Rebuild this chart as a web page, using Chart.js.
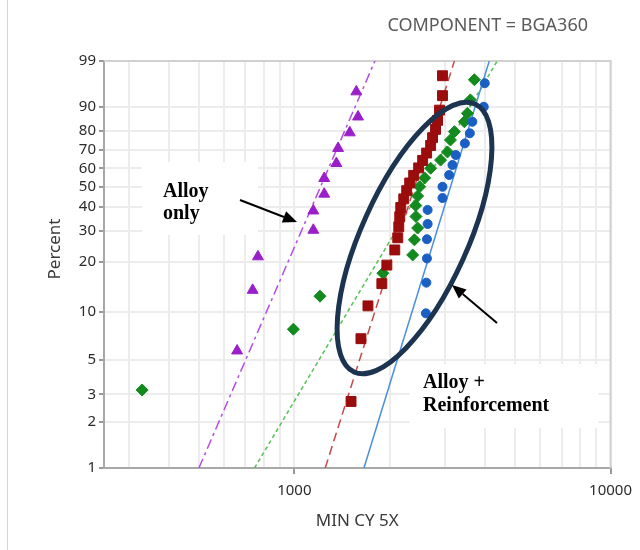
<!DOCTYPE html>
<html>
<head>
<meta charset="utf-8">
<script src="https://cdn.jsdelivr.net/npm/chart.js@4.4.1/dist/chart.umd.min.js"></script>
<style>
  html, body { margin: 0; padding: 0; background: #fff; }
  #wrap { width: 640px; height: 550px; }
</style>
</head>
<body>
<div id="wrap"><canvas id="weibull" width="640" height="550"></canvas></div>
<script>
// probability axis labels (percent) and cycle axis grid
const pctTicks = [1, 2, 3, 5, 10, 20, 30, 40, 50, 60, 70, 80, 90, 99];
const cycleTicks = [300, 400, 500, 600, 700, 800, 900, 1000, 2000, 3000, 4000, 5000, 6000, 7000, 8000, 9000, 10000];
const cycleLabels = [1000, 10000];

// alloy only (purple triangles)
const alloyCycles = [659, 738, 767, 1148, 1148, 1243, 1243, 1358, 1375, 1497, 1590, 1570];
const alloyPct = [5.7, 13.6, 21.5, 30.3, 38.3, 46.3, 54.5, 62.7, 71.0, 79.1, 86.3, 94.5];

// red squares
const redCycles = [1511, 1624, 1709, 1891, 1961, 2078, 2123, 2139, 2154, 2170, 2218, 2266, 2316, 2384, 2472, 2545, 2620, 2697, 2736, 2796, 2837, 2878, 2941, 2941];
const redPct = [2.7, 6.8, 10.9, 14.9, 19.2, 23.5, 27.5, 31.6, 35.7, 39.8, 43.9, 48.0, 52.0, 56.1, 60.2, 64.3, 68.4, 72.5, 76.6, 80.7, 84.8, 88.9, 93.5, 97.5];

// green diamonds
const greenCycles = [330, 993, 1205, 1905, 2367, 2397, 2454, 2424, 2421, 2454, 2490, 2582, 2697, 2900, 3050, 3116, 3208, 3449, 3526, 3603, 3709];
const greenPct = [3.2, 7.8, 12.5, 17.2, 22.0, 26.8, 31.1, 35.8, 40.7, 45.3, 50.0, 54.7, 60.0, 64.5, 69.0, 75.4, 79.6, 84.2, 87.7, 92.3, 96.9];

// blue circles
const blueCycles = [2606, 2615, 2626, 2626, 2639, 2639, 2941, 2941, 3087, 3162, 3239, 3462, 3589, 3655, 3973, 4001];
const bluePct = [9.8, 15.1, 21.0, 27.0, 32.7, 38.7, 44.3, 50.0, 56.3, 61.8, 67.3, 73.6, 78.8, 84.2, 90.1, 96.3];

// fitted lines, cycles at 1% and 99%
const fitPct = [1, 99];
const alloyFit = [499, 1798];
const redFit = [1252, 3208];
const greenFit = [748, 4381];
const blueFit = [1660, 4134];

// weibull probability transform
const wb = p => Math.log(-Math.log(1 - p / 100));
const toPoints = (xs, ps) => xs.map((x, i) => ({ x: x, y: wb(ps[i]) }));

const FONT = '"Noto Sans", "Open Sans", sans-serif';

function arrow(ctx, x1, y1, x2, y2) {
    const ang = Math.atan2(y2 - y1, x2 - x1);
    const len = 14, half = 6;
    const bx = x2 - Math.cos(ang) * len, by = y2 - Math.sin(ang) * len;
    ctx.beginPath();
    ctx.moveTo(x1, y1);
    ctx.lineTo(bx, by);
    ctx.stroke();
    ctx.beginPath();
    ctx.moveTo(x2, y2);
    ctx.lineTo(bx + Math.sin(ang) * half, by - Math.cos(ang) * half);
    ctx.lineTo(bx - Math.sin(ang) * half, by + Math.cos(ang) * half);
    ctx.closePath();
    ctx.fill();
}

const notes = {
    id: 'notes',
    beforeDraw(chart) {
        const ctx = chart.ctx;
        ctx.save();
        ctx.fillStyle = '#fff';
        ctx.fillRect(0, 0, chart.width, chart.height);
        ctx.strokeStyle = '#d4d4d4';
        ctx.lineWidth = 1;
        ctx.beginPath();
        ctx.moveTo(7.5, 0);
        ctx.lineTo(7.5, chart.height);
        ctx.stroke();

        ctx.fillStyle = '#5a5a5a';
        ctx.font = '18px ' + FONT;
        ctx.textAlign = 'right';
        ctx.textBaseline = 'alphabetic';
        ctx.fillText('COMPONENT = BGA360', 588, 31);

        ctx.translate(55, 249);
        ctx.rotate(-Math.PI / 2);
        ctx.textAlign = 'center';
        ctx.textBaseline = 'middle';
        ctx.font = '17px ' + FONT;
        ctx.fillStyle = '#3a3a3a';
        ctx.fillText('Percent', 0, 0);
        ctx.restore();
    },
    beforeDatasetsDraw(chart) {
        const ctx = chart.ctx;
        const a = chart.chartArea;
        ctx.save();
        // plot frame, top and right
        ctx.strokeStyle = '#d0d0d0';
        ctx.lineWidth = 2;
        ctx.beginPath();
        ctx.moveTo(a.left, a.top);
        ctx.lineTo(a.right, a.top);
        ctx.lineTo(a.right, a.bottom);
        ctx.stroke();
        // white label boxes
        ctx.fillStyle = '#fff';
        ctx.fillRect(142, 162, 116, 73);
        ctx.fillRect(410, 364, 188, 64);
        ctx.restore();
    },
    afterDatasetsDraw(chart) {
        const ctx = chart.ctx;
        ctx.save();
        ctx.strokeStyle = '#1c3450';
        ctx.lineWidth = 5;
        ctx.beginPath();
        ctx.ellipse(414.5, 238, 147, 53, -65.7 * Math.PI / 180, 0, Math.PI * 2);
        ctx.stroke();

        ctx.strokeStyle = '#000';
        ctx.fillStyle = '#000';
        ctx.lineWidth = 2;
        arrow(ctx, 240, 200, 297, 222);
        arrow(ctx, 497, 323, 452, 285);

        ctx.font = 'bold 20px "Liberation Serif", "DejaVu Serif", serif';
        ctx.textAlign = 'left';
        ctx.textBaseline = 'alphabetic';
        ctx.fillText('Alloy', 163, 197);
        ctx.fillText('only', 163, 219);
        ctx.fillText('Alloy +', 423, 388);
        ctx.fillText('Reinforcement', 423, 411);
        ctx.restore();
    }
};

const pointSet = (label, xs, ps, style, radius, color, order) => ({
    type: 'scatter',
    label: label,
    data: toPoints(xs, ps),
    pointStyle: style,
    pointRadius: radius,
    pointBackgroundColor: color,
    pointBorderColor: color,
    pointBorderWidth: 1,
    showLine: false,
    order: order
});

const fitSet = (label, xs, color, dash, order) => ({
    type: 'line',
    label: label,
    data: toPoints(xs, fitPct),
    borderColor: color,
    borderWidth: 1.5,
    borderDash: dash,
    pointRadius: 0,
    fill: false,
    order: order
});

new Chart(document.getElementById('weibull').getContext('2d'), {
    type: 'scatter',
    data: {
        datasets: [
            pointSet('Blue', blueCycles, bluePct, 'circle', 4.5, '#1a5fc4', 1),
            pointSet('Red', redCycles, redPct, 'rect', 7, '#9b0d0d', 2),
            pointSet('Alloy only', alloyCycles, alloyPct, 'triangle', 6.3, '#9a1fc8', 3),
            pointSet('Green', greenCycles, greenPct, 'rectRot', 6, '#128a1e', 4),
            fitSet('Blue fit', blueFit, '#4a8fdc', [], 5),
            fitSet('Red fit', redFit, '#c24a4a', [9, 5], 6),
            fitSet('Alloy fit', alloyFit, '#b44ce6', [10, 4, 3, 4], 7),
            fitSet('Green fit', greenFit, '#55c155', [4, 3], 8)
        ]
    },
    options: {
        responsive: false,
        animation: false,
        devicePixelRatio: 1,
        layout: { padding: { top: 61, right: 26, bottom: 0, left: 0 } },
        plugins: {
            legend: { display: false },
            tooltip: { enabled: false }
        },
        scales: {
            x: {
                type: 'logarithmic',
                min: 250,
                max: 10000,
                afterBuildTicks: s => { s.ticks = cycleTicks.map(v => ({ value: v })); },
                afterFit: s => { s.height = 82; },
                ticks: {
                    autoSkip: false,
                    maxRotation: 0,
                    padding: 8,
                    color: '#2b2b2b',
                    font: { family: FONT, size: 15 },
                    callback: v => cycleLabels.includes(v) ? String(v) : ''
                },
                grid: {
                    color: '#ececec',
                    lineWidth: 2,
                    tickLength: 6,
                    tickColor: c => (c.tick && cycleLabels.includes(c.tick.value)) ? '#999' : 'rgba(0,0,0,0)'
                },
                border: { color: '#a8a8a8', width: 2 },
                title: {
                    display: true,
                    text: 'MIN CY 5X',
                    color: '#3a3a3a',
                    font: { family: FONT, size: 17 },
                    padding: { top: 0, bottom: 19 }
                }
            },
            y: {
                type: 'linear',
                min: wb(1),
                max: wb(99),
                afterBuildTicks: s => { s.ticks = pctTicks.map(p => ({ value: wb(p) })); },
                afterFit: s => { s.width = 104; },
                ticks: {
                    autoSkip: false,
                    padding: 3,
                    color: '#2b2b2b',
                    font: { family: FONT, size: 15 },
                    callback: (v, i) => String(pctTicks[i])
                },
                grid: {
                    color: '#ececec',
                    lineWidth: 2,
                    tickLength: 5,
                    tickColor: '#999'
                },
                border: { color: '#a8a8a8', width: 2 }
            }
        }
    },
    plugins: [notes]
});
</script>
</body>
</html>
